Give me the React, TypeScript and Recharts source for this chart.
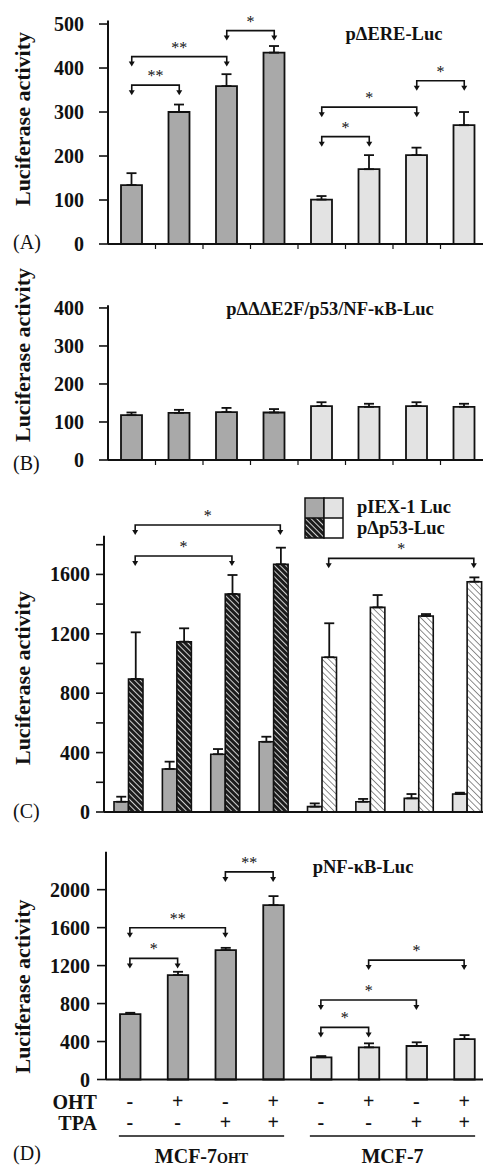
import React from 'react';
import { BarChart, Bar, XAxis, YAxis, ErrorBar, Cell, ReferenceLine, Legend } from 'recharts';

const SERIF = '"Liberation Serif", "Times New Roman", serif';
const INK = '#111';
const DARK = '#a9a9a9';
const LIGHT = '#e3e3e3';

// 8 conditions: 4 in MCF-7OHT, 4 in MCF-7
const categories = [
  'MCF-7OHT control', 'MCF-7OHT OHT', 'MCF-7OHT TPA', 'MCF-7OHT OHT+TPA',
  'MCF-7 control', 'MCF-7 OHT', 'MCF-7 TPA', 'MCF-7 OHT+TPA',
];
const ohtSigns = ['-', '+', '-', '+', '-', '+', '-', '+'];
const tpaSigns = ['-', '-', '+', '+', '-', '-', '+', '+'];
const cellLines = [{ name: 'MCF-7', sub: 'OHT' }, { name: 'MCF-7', sub: '' }];

// (A) pΔERE-Luc
const ereValues = [134, 300, 359, 435, 101, 170, 202, 270];
const ereSem = [27, 17, 27, 15, 8, 32, 17, 30];
// (B) pΔΔΔE2F/p53/NF-κB-Luc
const e2fValues = [118, 124, 126, 125, 142, 140, 142, 140];
const e2fSem = [7, 8, 11, 9, 10, 8, 10, 8];
// (C) pIEX-1 Luc and pΔp53-Luc
const iexValues = [69, 290, 389, 473, 36, 69, 92, 121];
const iexSem = [34, 49, 35, 34, 22, 19, 29, 9];
const p53Values = [896, 1147, 1468, 1668, 1042, 1378, 1320, 1551];
const p53Sem = [314, 90, 128, 112, 229, 83, 13, 29];
const legendLabels = ['pIEX-1 Luc', 'pΔp53-Luc'];
// (D) pNF-κB-Luc
const nfkbValues = [689, 1100, 1363, 1837, 234, 339, 353, 426];
const nfkbSem = [14, 35, 24, 95, 13, 42, 39, 42];

type Bracket = { from: number; to: number; y: number; mark: string };
const ereBrackets: Bracket[] = [
  { from: 0, to: 1, y: 361, mark: '**' },
  { from: 0, to: 2, y: 426, mark: '**' },
  { from: 2, to: 3, y: 485, mark: '*' },
  { from: 4, to: 5, y: 244, mark: '*' },
  { from: 4, to: 6, y: 311, mark: '*' },
  { from: 6, to: 7, y: 371, mark: '*' },
];
const p53Brackets: Bracket[] = [
  { from: 0, to: 3, y: 1933, mark: '*' },
  { from: 0, to: 2, y: 1724, mark: '*' },
  { from: 4, to: 7, y: 1708, mark: '*' },
];
const nfkbBrackets: Bracket[] = [
  { from: 0, to: 1, y: 1276, mark: '*' },
  { from: 0, to: 2, y: 1598, mark: '**' },
  { from: 2, to: 3, y: 2187, mark: '**' },
  { from: 4, to: 5, y: 549, mark: '*' },
  { from: 4, to: 6, y: 837, mark: '*' },
  { from: 5, to: 7, y: 1258, mark: '*' },
];

const ereData = categories.map((name, i) => ({ name, value: ereValues[i], err: [0, ereSem[i]] }));
const e2fData = categories.map((name, i) => ({ name, value: e2fValues[i], err: [0, e2fSem[i]] }));
const p53Data = categories.map((name, i) => ({
  name,
  iex: iexValues[i],
  iexErr: [0, iexSem[i]],
  p53: p53Values[i],
  p53Err: [0, p53Sem[i]],
}));
const nfkbData = categories.map((name, i) => ({ name, value: nfkbValues[i], err: [0, nfkbSem[i]] }));

const bracketShape = (mark: string, dx: number) => (props: any) => {
  const a = props.x1 + dx;
  const b = props.x2 + dx;
  const y = props.y1;
  return (
    <g>
      <path d={`M${a},${y + 6} V${y} H${b} V${y + 6}`} fill="none" stroke={INK} strokeWidth={1.6} />
      <path d={`M${a - 3},${y + 5} L${a + 3},${y + 5} L${a},${y + 10} Z`} fill={INK} />
      <path d={`M${b - 3},${y + 5} L${b + 3},${y + 5} L${b},${y + 10} Z`} fill={INK} />
      <text x={(a + b) / 2} y={y - 4} textAnchor="middle" fontSize={16} fontFamily={SERIF} fill={INK}>
        {mark}
      </text>
    </g>
  );
};

const renderBrackets = (list: Bracket[], dx = 0) =>
  list.map((br, i) => (
    <ReferenceLine
      key={`br${i}`}
      ifOverflow="visible"
      segment={[
        { x: categories[br.from], y: br.y },
        { x: categories[br.to], y: br.y },
      ]}
      shape={bracketShape(br.mark, dx)}
    />
  ));

// y label, panel letter and panel title
const panelText = (cy: number, letter: string, letterY: number, title?: string, tx = 0, ty = 0) => () => (
  <g fontFamily={SERIF} fill={INK}>
    <text x={30} y={cy} transform={`rotate(-90, 30, ${cy})`} textAnchor="middle" fontSize={22} fontWeight="bold">
      Luciferase activity
    </text>
    <text x={13} y={letterY} fontSize={20}>({letter})</text>
    {title ? (
      <text x={tx} y={ty} textAnchor="middle" fontSize={18.5} fontWeight="bold">{title}</text>
    ) : null}
  </g>
);

const yTick = (step: number) => (props: any) => {
  const { x, y, payload } = props;
  if (payload.value % step !== 0) return <g />;
  return (
    <text x={x} y={y} dy={7} textAnchor="end" fontSize={20} fontWeight="bold" fontFamily={SERIF} fill={INK}>
      {payload.value}
    </text>
  );
};

// small ticks between the categories (panels A and B)
const boundaryTick = (band: number) => (props: any) => {
  const { x, y, index } = props;
  if (index >= categories.length - 1) return <g />;
  return <line x1={x + band / 2} x2={x + band / 2} y1={y} y2={y + 5} stroke={INK} strokeWidth={1.2} />;
};

const BAND_D = (488 - 106) / 8;
const signTick = (props: any) => {
  const { x, y, index } = props;
  const txt = { fontFamily: SERIF, fontWeight: 'bold' as const, fill: INK };
  const group = cellLines[Math.floor(index / 4)];
  return (
    <g>
      <text x={x} y={y + 28} textAnchor="middle" fontSize={20} {...txt}>{ohtSigns[index]}</text>
      <text x={x} y={y + 49} textAnchor="middle" fontSize={20} {...txt}>{tpaSigns[index]}</text>
      {index === 0 ? (
        <g>
          <text x={x - 33} y={y + 29} textAnchor="end" fontSize={20} {...txt}>OHT</text>
          <text x={x - 33} y={y + 50} textAnchor="end" fontSize={20} {...txt}>TPA</text>
        </g>
      ) : null}
      {index % 4 === 0 ? (
        <g>
          <line x1={x - 11} x2={x + 3 * BAND_D + 11} y1={y + 56.5} y2={y + 56.5} stroke={INK} strokeWidth={1.6} />
          <text x={x + 1.5 * BAND_D} y={y + 83} textAnchor="middle" fontSize={20} {...txt}>
            {group.name}
            {group.sub ? <tspan fontSize={14}>{group.sub}</tspan> : null}
          </text>
        </g>
      ) : null}
    </g>
  );
};

const axisLine = { stroke: INK, strokeWidth: 2 };
const tickLine = { stroke: INK, strokeWidth: 1.6 };

const legendContent = () => (
  <div style={{ fontFamily: SERIF, fontWeight: 'bold', fontSize: 18.5, color: INK, lineHeight: '21px' }}>
    {legendLabels.map((label, r) => (
      <div key={label} style={{ display: 'flex', alignItems: 'center', height: 21 }}>
        <svg width={40} height={21} style={{ display: 'block' }}>
          <rect x={1} y={r === 0 ? 1 : 0} width={19} height={20} fill={r === 0 ? DARK : 'url(#hatchDark)'} stroke={INK} strokeWidth={1.5} />
          <rect x={20} y={r === 0 ? 1 : 0} width={19} height={20} fill={r === 0 ? LIGHT : '#fff'} stroke={INK} strokeWidth={1.5} />
        </svg>
        <span style={{ marginLeft: 13 }}>{label}</span>
      </div>
    ))}
  </div>
);

export default function App() {
  return (
    <div style={{ position: 'absolute', left: 0, top: 0, width: 483, height: 1167, overflow: 'hidden', background: '#fff' }}>
      {/* (A) */}
      <div style={{ position: 'absolute', left: 0, top: 0 }}>
        <BarChart width={500} height={274} data={ereData} margin={{ top: 20.5, right: 12, bottom: 0, left: 48 }}>
          <XAxis dataKey="name" height={30} interval={0} axisLine={axisLine} tickLine={false} tickSize={0} tickMargin={0} tick={boundaryTick(47.5)} />
          <YAxis type="number" domain={[0, 508]} ticks={[0, 100, 200, 300, 400, 500]} width={60} tickSize={9} tickMargin={15}
            axisLine={axisLine} tickLine={tickLine} tick={yTick(100)} label={panelText(119, 'A', 249, 'pΔERE-Luc', 394, 40)} />
          <Bar dataKey="value" barSize={21} stroke={INK} strokeWidth={1.8} isAnimationActive={false}>
            {ereData.map((d, i) => <Cell key={d.name} fill={i < 4 ? DARK : LIGHT} />)}
            <ErrorBar dataKey="err" direction="y" width={5} stroke={INK} strokeWidth={1.8} />
          </Bar>
          {renderBrackets(ereBrackets)}
        </BarChart>
      </div>

      {/* (B) */}
      <div style={{ position: 'absolute', left: 0, top: 250 }}>
        <BarChart width={500} height={234} data={e2fData} margin={{ top: 55.3, right: 12, bottom: 0, left: 48 }}>
          <XAxis dataKey="name" height={24} interval={0} axisLine={axisLine} tickLine={false} tickSize={0} tickMargin={0} tick={boundaryTick(47.5)} />
          <YAxis type="number" domain={[0, 407]} ticks={[0, 100, 200, 300, 400]} width={60} tickSize={9} tickMargin={15}
            axisLine={axisLine} tickLine={tickLine} tick={yTick(100)} label={panelText(105, 'B', 220, 'pΔΔΔE2F/p53/NF-κB-Luc', 330, 65)} />
          <Bar dataKey="value" barSize={21} stroke={INK} strokeWidth={1.8} isAnimationActive={false}>
            {e2fData.map((d, i) => <Cell key={d.name} fill={i < 4 ? DARK : LIGHT} />)}
            <ErrorBar dataKey="err" direction="y" width={5} stroke={INK} strokeWidth={1.8} />
          </Bar>
        </BarChart>
      </div>

      {/* (C) */}
      <div style={{ position: 'absolute', left: 0, top: 484 }}>
        <BarChart width={500} height={340} data={p53Data} barGap={0} margin={{ top: 51.8, right: 9, bottom: 0, left: 44 }}>
          <defs>
            <pattern id="hatchDark" width="4" height="4" patternUnits="userSpaceOnUse" patternTransform="rotate(-45)">
              <rect width="4" height="4" fill="#1c1c1c" />
              <line x1="0" y1="0" x2="0" y2="4" stroke="#fff" strokeWidth="1.6" />
            </pattern>
            <pattern id="hatchLight" width="4.5" height="4.5" patternUnits="userSpaceOnUse" patternTransform="rotate(-45)">
              <rect width="4.5" height="4.5" fill="#fff" />
              <line x1="0" y1="0" x2="0" y2="4.5" stroke="#333" strokeWidth="1.1" />
            </pattern>
          </defs>
          <XAxis dataKey="name" height={12} interval={0} axisLine={axisLine} tickLine={false} tick={false} />
          <YAxis type="number" domain={[0, 1860]} ticks={[0, 200, 400, 600, 800, 1000, 1200, 1400, 1600, 1800]} width={60} tickSize={8} tickMargin={6}
            axisLine={axisLine} tickLine={tickLine} tick={yTick(400)} label={panelText(194, 'C', 334)} />
          <Legend verticalAlign="middle" align="center" layout="horizontal" content={legendContent}
            wrapperStyle={{ left: 304, top: 13, width: 180, height: 44 }} />
          <Bar dataKey="iex" name={legendLabels[0]} barSize={14.5} stroke={INK} strokeWidth={1.6} isAnimationActive={false}>
            {p53Data.map((d, i) => <Cell key={d.name} fill={i < 4 ? DARK : LIGHT} />)}
            <ErrorBar dataKey="iexErr" direction="y" width={5} stroke={INK} strokeWidth={1.8} />
          </Bar>
          <Bar dataKey="p53" name={legendLabels[1]} barSize={14.5} stroke={INK} strokeWidth={1.6} isAnimationActive={false}>
            {p53Data.map((d, i) => <Cell key={d.name} fill={i < 4 ? 'url(#hatchDark)' : 'url(#hatchLight)'} />)}
            <ErrorBar dataKey="p53Err" direction="y" width={5} stroke={INK} strokeWidth={1.8} />
          </Bar>
          {renderBrackets(p53Brackets, 7)}
        </BarChart>
      </div>

      {/* (D) */}
      <div style={{ position: 'absolute', left: 0, top: 824 }}>
        <BarChart width={500} height={343.5} data={nfkbData} margin={{ top: 27.7, right: 12, bottom: 0, left: 46 }}>
          <XAxis dataKey="name" height={88} interval={0} axisLine={axisLine} tickLine={false} tickSize={0} tickMargin={0} tick={signTick} />
          <YAxis type="number" domain={[0, 2400]} ticks={[0, 400, 800, 1200, 1600, 2000]} width={60} tickSize={9} tickMargin={7}
            axisLine={axisLine} tickLine={tickLine} tick={yTick(400)} label={panelText(162.5, 'D', 336, 'pNF-κB-Luc', 363, 49)} />
          <Bar dataKey="value" barSize={20.5} stroke={INK} strokeWidth={1.8} isAnimationActive={false}>
            {nfkbData.map((d, i) => <Cell key={d.name} fill={i < 4 ? DARK : LIGHT} />)}
            <ErrorBar dataKey="err" direction="y" width={5} stroke={INK} strokeWidth={1.8} />
          </Bar>
          {renderBrackets(nfkbBrackets)}
        </BarChart>
      </div>
    </div>
  );
}
